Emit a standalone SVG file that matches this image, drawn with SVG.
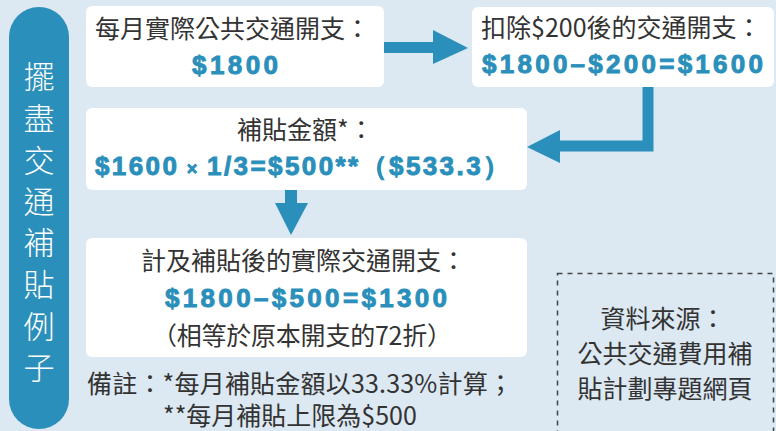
<svg xmlns="http://www.w3.org/2000/svg" width="776" height="431" viewBox="0 0 776 431">
<style>
.box{fill:#ffffff}
.cn{font-family:"Noto Sans CJK TC","Noto Sans CJK SC",sans-serif;font-size:25px;fill:#333333}
.num{font-family:"Liberation Sans","Arial",sans-serif;font-weight:bold;font-size:26px;fill:#2a8fba;stroke:#2a8fba;stroke-width:0.9}
.title{font-family:"Noto Sans CJK TC",sans-serif;font-size:31px;font-weight:300;fill:#ffffff;text-anchor:middle}
.arrow{fill:#2a8fba}
</style>
<rect x="0" y="0" width="776" height="431" fill="#dce8f2"/>
<g id="title">
<rect x="9" y="7" width="60" height="422" rx="30" fill="#2a8fba"/>
<text class="title" x="39" y="88">擺</text>
<text class="title" x="39" y="130">盡</text>
<text class="title" x="39" y="172">交</text>
<text class="title" x="39" y="213">通</text>
<text class="title" x="39" y="254">補</text>
<text class="title" x="39" y="296">貼</text>
<text class="title" x="39" y="338">例</text>
<text class="title" x="39" y="379">子</text>
</g>
<g id="connectors">
<rect class="arrow" x="384" y="42" width="51" height="11"/>
<polygon class="arrow" points="433,30 468,48 433,64"/>
<path d="M648,87 V146 H556" fill="none" stroke="#2a8fba" stroke-width="11"/>
<polygon class="arrow" points="560,130 527,147 560,163"/>
<rect class="arrow" x="285" y="190" width="12" height="15"/>
<polygon class="arrow" points="275,203 308,203 291,235"/>
</g>
<g id="box1">
<rect class="box" x="86" y="6" width="298" height="81" rx="6"/>
<text class="cn" x="95" y="38">每月實際公共交通開支：</text>
<text class="num" x="192" y="74" textLength="86">$1800</text>
</g>
<g id="box2">
<rect class="box" x="472" y="7" width="302" height="80" rx="6"/>
<text class="cn" x="481" y="37">扣除$200後的交通開支：</text>
<text class="num" x="482" y="73" textLength="281">$1800–$200=$1600</text>
</g>
<g id="box3">
<rect class="box" x="86" y="108" width="441" height="82" rx="6"/>
<text class="cn" x="237" y="139">補貼金額*：</text>
<text class="num" x="95" y="175" textLength="414">$1600<tspan font-size="18"> × </tspan>1/3=$500**（$533.3）</text>
</g>
<g id="box4">
<rect class="box" x="86" y="238" width="441" height="119" rx="6"/>
<text class="cn" x="141" y="270">計及補貼後的實際交通開支：</text>
<text class="num" x="165" y="307" textLength="282">$1800–$500=$1300</text>
<text class="cn" x="152" y="345" textLength="300">（相等於原本開支的72折）</text>
</g>
<g id="notes">
<text class="cn" x="87" y="393" textLength="426">備註：*每月補貼金額以33.33%計算；</text>
<text class="cn" x="163" y="425">**每月補貼上限為$500</text>
</g>
<g id="source">
<rect x="557.5" y="273.5" width="216" height="200" fill="none" stroke="#444444" stroke-width="1.5" stroke-dasharray="5 5"/>
<text class="cn" x="663" y="328" text-anchor="middle">資料來源：</text>
<text class="cn" x="665" y="363" text-anchor="middle">公共交通費用補</text>
<text class="cn" x="665" y="398" text-anchor="middle">貼計劃專題網頁</text>
</g>
</svg>
